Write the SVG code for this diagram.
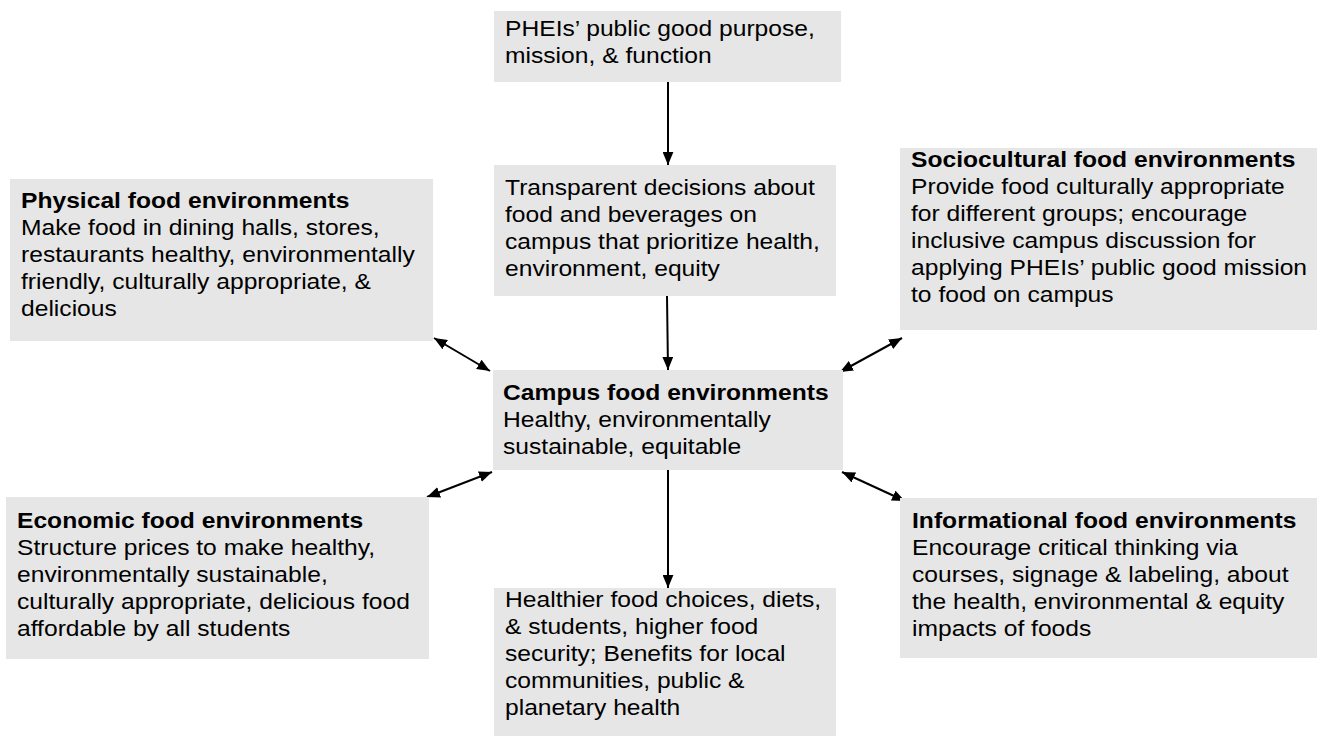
<svg xmlns="http://www.w3.org/2000/svg" width="1322" height="736" viewBox="0 0 1322 736">
<style>
.box{fill:#e6e6e6;stroke:none}
text{font-family:"Liberation Sans",Arial,sans-serif;font-size:22px;fill:#000}
.b{font-weight:bold}
.c{stroke:#000;stroke-width:2;fill:none}
</style>
<defs>
<marker id="ah" viewBox="0 0 12 10" refX="12" refY="5" markerWidth="13" markerHeight="11" markerUnits="userSpaceOnUse" orient="auto-start-reverse">
<path d="M0,0 L12,5 L0,10 z" fill="#000"/>
</marker>
</defs>
<rect width="1322" height="736" fill="#fff"/>
<g id="connectors">
<line class="c" x1="668" y1="82" x2="668" y2="165" marker-end="url(#ah)"/>
<line class="c" x1="667" y1="296" x2="668" y2="370" marker-end="url(#ah)"/>
<line class="c" x1="668" y1="470" x2="668" y2="588" marker-end="url(#ah)"/>
<line class="c" x1="434" y1="338" x2="490" y2="371" marker-start="url(#ah)" marker-end="url(#ah)"/>
<line class="c" x1="902" y1="338" x2="840" y2="372" marker-start="url(#ah)" marker-end="url(#ah)"/>
<line class="c" x1="427" y1="497" x2="492" y2="472" marker-start="url(#ah)" marker-end="url(#ah)"/>
<line class="c" x1="905" y1="501" x2="842" y2="472" marker-start="url(#ah)" marker-end="url(#ah)"/>
</g>
<g id="purpose">
<rect class="box" x="494" y="11" width="347" height="71"/>
<g transform="translate(505 0) scale(1.12 1)">
<text y="36">PHEIs’ public good purpose,</text>
<text y="63">mission, &amp; function</text>
</g>
</g>
<g id="transparent">
<rect class="box" x="494" y="165" width="342" height="131"/>
<g transform="translate(505 0) scale(1.12 1)">
<text y="195">Transparent decisions about</text>
<text y="222">food and beverages on</text>
<text y="249">campus that prioritize health,</text>
<text y="276">environment, equity</text>
</g>
</g>
<g id="physical">
<rect class="box" x="10" y="179" width="423" height="162"/>
<g transform="translate(21 0) scale(1.12 1)">
<text class="b" y="208">Physical food environments</text>
<text y="235">Make food in dining halls, stores,</text>
<text y="262">restaurants healthy, environmentally</text>
<text y="289">friendly, culturally appropriate, &amp;</text>
<text y="316">delicious</text>
</g>
</g>
<g id="sociocultural">
<rect class="box" x="900" y="148" width="417" height="182"/>
<g transform="translate(911 0) scale(1.12 1)">
<text class="b" y="167">Sociocultural food environments</text>
<text y="194">Provide food culturally appropriate</text>
<text y="221">for different groups; encourage</text>
<text y="248">inclusive campus discussion for</text>
<text y="275">applying PHEIs’ public good mission</text>
<text y="302">to food on campus</text>
</g>
</g>
<g id="campus">
<rect class="box" x="493" y="370" width="350" height="100"/>
<g transform="translate(503 0) scale(1.12 1)">
<text class="b" y="400">Campus food environments</text>
<text y="427">Healthy, environmentally</text>
<text y="454">sustainable, equitable</text>
</g>
</g>
<g id="economic">
<rect class="box" x="6" y="497" width="423" height="162"/>
<g transform="translate(17 0) scale(1.12 1)">
<text class="b" y="528">Economic food environments</text>
<text y="555">Structure prices to make healthy,</text>
<text y="582">environmentally sustainable,</text>
<text y="609">culturally appropriate, delicious food</text>
<text y="636">affordable by all students</text>
</g>
</g>
<g id="informational">
<rect class="box" x="900" y="498" width="417" height="160"/>
<g transform="translate(912 0) scale(1.12 1)">
<text class="b" y="528">Informational food environments</text>
<text y="555">Encourage critical thinking via</text>
<text y="582">courses, signage &amp; labeling, about</text>
<text y="609">the health, environmental &amp; equity</text>
<text y="636">impacts of foods</text>
</g>
</g>
<g id="outcomes">
<rect class="box" x="494" y="588" width="342" height="148"/>
<g transform="translate(505 0) scale(1.12 1)">
<text y="607">Healthier food choices, diets,</text>
<text y="634">&amp; students, higher food</text>
<text y="661">security; Benefits for local</text>
<text y="688">communities, public &amp;</text>
<text y="715">planetary health</text>
</g>
</g>
</svg>
